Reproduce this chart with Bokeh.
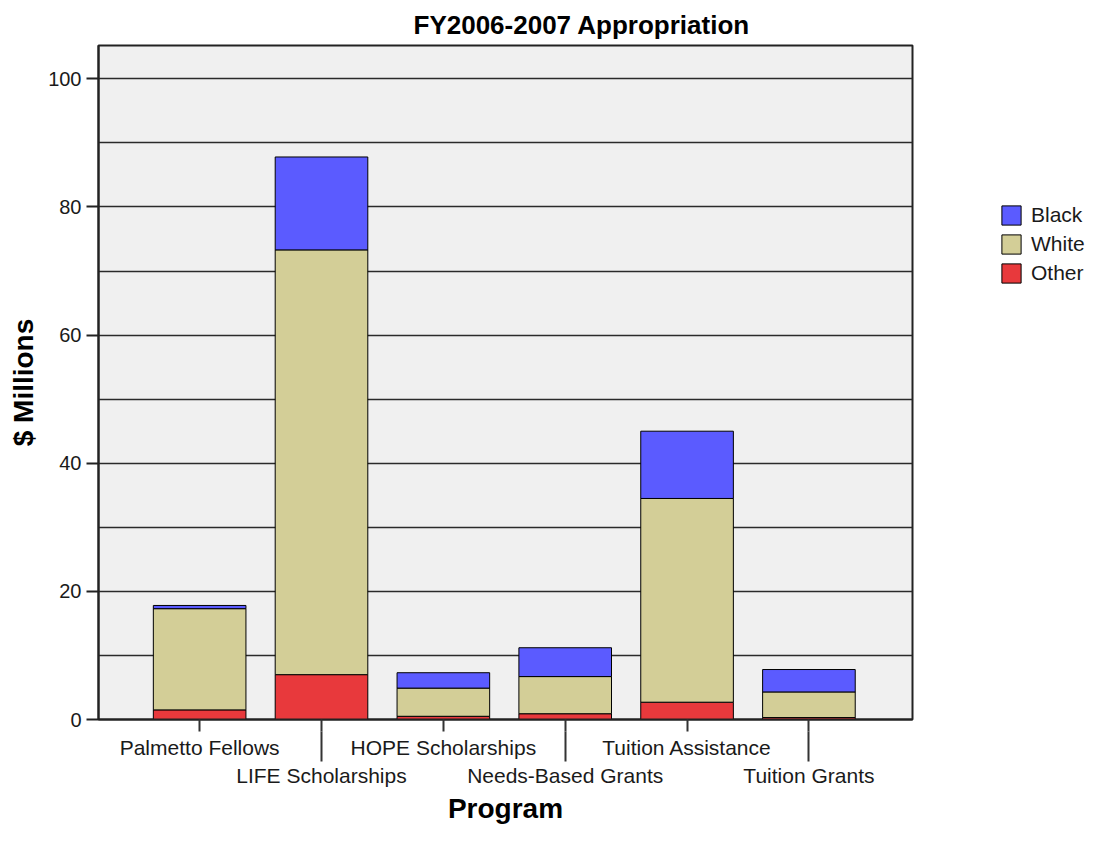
from bokeh.plotting import figure
from bokeh.layouts import row
from bokeh.models import FixedTicker, LinearAxis, Range1d, Legend, LegendItem
from bokeh.embed import file_html
from bokeh.resources import INLINE

categories = ["Palmetto Fellows", "LIFE Scholarships", "HOPE Scholarships",
              "Needs-Based Grants", "Tuition Assistance", "Tuition Grants"]
other = [1.5, 7.0, 0.5, 0.9, 2.7, 0.3]
white = [15.8, 66.3, 4.4, 5.8, 31.8, 4.0]
black = [0.5, 14.5, 2.4, 4.5, 10.5, 3.5]
y_ticks = [0, 20, 40, 60, 80, 100]
grid_ticks = [0, 10, 20, 30, 40, 50, 60, 70, 80, 90, 100]

series = ["other", "white", "black"]
colors = ["#e8393c", "#d3ce97", "#5b5bff"]
names = ["Other", "White", "Black"]

xs = list(range(len(categories)))
source = dict(x=xs, other=other, white=white, black=black)

FONT = "Liberation Sans"
TOTAL_H = 828

p = figure(frame_width=814, frame_height=674, output_backend="svg", toolbar_location=None,
           x_range=Range1d(-0.83, 5.85), y_range=Range1d(0, 105.2),
           min_border_left=98, min_border_top=45, min_border_right=2,
           min_border_bottom=0,
           title="FY2006-2007 Appropriation")

renderers = p.vbar_stack(series, x="x", width=0.76, source=source,
                         color=colors, line_color="black", line_width=1)

p.background_fill_color = "#f0f0f0"
p.border_fill_color = "white"
p.outline_line_color = "#222222"
p.outline_line_width = 2

p.title.align = "left"
p.title.offset = 315
p.title.text_font = FONT
p.title.text_font_size = "26px"
p.title.text_font_style = "bold"
p.title.text_color = "black"
p.title.standoff = 12

# grid
p.xgrid.visible = False
p.ygrid.ticker = FixedTicker(ticks=grid_ticks)
p.ygrid.grid_line_color = "#2a2a2a"
p.ygrid.grid_line_width = 1.5

# y axis
ya = p.yaxis[0]
ya.ticker = FixedTicker(ticks=y_ticks)
ya.major_tick_out = 12
ya.major_tick_in = 0
ya.minor_tick_line_color = None
ya.major_tick_line_color = "#222222"
ya.major_tick_line_width = 2
ya.axis_line_color = "#222222"
ya.axis_line_width = 2
ya.major_label_text_font = FONT
ya.major_label_text_font_size = "20px"
ya.major_label_text_color = "#1a1a1a"
ya.major_label_standoff = 5
ya.axis_label = "$ Millions"
ya.axis_label_text_font = FONT
ya.axis_label_text_font_size = "28px"
ya.axis_label_text_font_style = "bold"
ya.axis_label_text_color = "black"
ya.axis_label_standoff = 6

# x axis row 1 (even labels, short ticks at every category)
xa = p.xaxis[0]
xa.ticker = FixedTicker(ticks=xs)
xa.major_label_overrides = {i: (c if i % 2 == 0 else "") for i, c in enumerate(categories)}
xa.major_tick_out = 12
xa.major_tick_in = 0
xa.minor_tick_line_color = None
xa.major_tick_line_color = "#333333"
xa.major_tick_line_width = 2
xa.axis_line_color = "#222222"
xa.axis_line_width = 2
xa.major_label_text_font = FONT
xa.major_label_text_font_size = "21px"
xa.major_label_text_color = "#1a1a1a"
xa.major_label_standoff = 4

# x axis row 2 (odd labels; inward ticks extend the odd ticks up to row 1's ticks)
xb = LinearAxis(ticker=FixedTicker(ticks=xs[1::2]))
xb.major_label_overrides = {i: c for i, c in enumerate(categories) if i % 2 == 1}
xb.major_tick_out = 0
xb.major_tick_in = 30
xb.major_tick_line_color = "#333333"
xb.major_tick_line_width = 2
xb.minor_tick_line_color = None
xb.axis_line_color = None
xb.major_label_text_font = FONT
xb.major_label_text_font_size = "21px"
xb.major_label_text_color = "#1a1a1a"
xb.major_label_standoff = 2
xb.axis_label = "Program"
xb.axis_label_text_font = FONT
xb.axis_label_text_font_size = "28px"
xb.axis_label_text_font_style = "bold"
xb.axis_label_text_color = "black"
xb.axis_label_standoff = 3
p.add_layout(xb, "below")

# legend figure to the right (top-down: Black, White, Other);
# its stacked bars share the main series but sit outside its visible range
lf = figure(width=171, height=TOTAL_H, output_backend="svg", toolbar_location=None,
            x_range=Range1d(0, 1), y_range=Range1d(0, 1),
            min_border=0, x_axis_type=None, y_axis_type=None)
lf.outline_line_color = None
lf.grid.visible = False
lf.background_fill_color = "white"
lf.border_fill_color = "white"
offscreen = dict(x=[x + 100 for x in xs], other=other, white=white, black=black)
legend_renderers = lf.vbar_stack(series, x="x", width=0.76, source=offscreen,
                                 color=colors, line_color="black", line_width=1)
items = [LegendItem(label=names[i], renderers=[legend_renderers[i]]) for i in (2, 1, 0)]
legend = Legend(items=items, location=(85, 436))
legend.glyph_width = 24
legend.glyph_height = 24
legend.label_height = 24
legend.spacing = 5
legend.padding = 0
legend.margin = 0
legend.label_standoff = 8
legend.label_text_font = FONT
legend.label_text_font_size = "21px"
legend.label_text_color = "#1a1a1a"
legend.border_line_color = None
legend.background_fill_alpha = 0
lf.add_layout(legend)

layout = row(p, lf, spacing=0)
open("out.html", "w").write(file_html(layout, INLINE))
